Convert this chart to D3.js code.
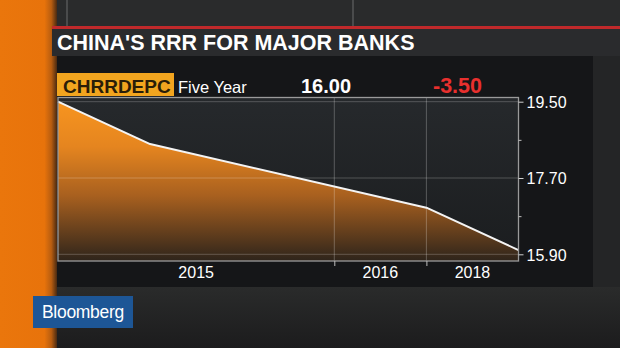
<!DOCTYPE html>
<html>
<head>
<meta charset="utf-8">
<script src="https://cdn.jsdelivr.net/npm/d3@7"></script>
<style>
  html, body { margin: 0; padding: 0; background: #222; }
  svg { display: block; font-family: "Liberation Sans", Arial, sans-serif; }
</style>
</head>
<body>
<svg id="chart" width="620" height="348"></svg>
<script>
// ---- data ----
const title = "CHINA'S RRR FOR MAJOR BANKS";
const ticker = "CHRRDEPC";
const period = "Five Year";
const lastValue = "16.00";
const netChange = "-3.50";
const obsIndex = [0, 2, 8, 10];          // observation position along the axis
const rrrValues = [19.5, 18.5, 17.0, 16.0];
const yearBounds = [0, 6, 8, 10];         // section boundaries on the x axis
const yearLabels = ["2015", "2016", "2018"];
const yTicks = [19.5, 17.7, 15.9];
const yTickLabels = ["19.50", "17.70", "15.90"];
const yMinorTicks = [18.6, 16.8];

const svg = d3.select("#chart");
const W = 620, H = 348;
const defs = svg.append("defs");

// background
const bgGrad = defs.append("linearGradient").attr("id", "bgGrad").attr("x1", 0).attr("x2", 0).attr("y1", 0).attr("y2", 1);
bgGrad.append("stop").attr("offset", "0%").attr("stop-color", "#2b2b2c");
bgGrad.append("stop").attr("offset", "100%").attr("stop-color", "#1d1d1e");
svg.append("rect").attr("width", W).attr("height", H).attr("fill", "url(#bgGrad)");

// top studio lines
svg.append("rect").attr("x", 52).attr("y", 0).attr("width", W - 52).attr("height", 27).attr("fill", "#2a2b2c");
[67, 353].forEach(x => svg.append("rect").attr("x", x - 1).attr("y", 0).attr("width", 2).attr("height", 26).attr("fill", "#4a4b4c"));

// bottom lighter area
const botGrad = defs.append("linearGradient").attr("id", "botGrad").attr("x1", 0).attr("x2", 0).attr("y1", 0).attr("y2", 1);
botGrad.append("stop").attr("offset", "0%").attr("stop-color", "#2a2b2b");
botGrad.append("stop").attr("offset", "100%").attr("stop-color", "#1c1c1d");
svg.append("rect").attr("x", 56).attr("y", 287).attr("width", W - 56).attr("height", H - 287).attr("fill", "url(#botGrad)");

// right side strip
svg.append("rect").attr("x", 593).attr("y", 56).attr("width", 27).attr("height", 231).attr("fill", "#242526");

// orange left strip
const orGrad = defs.append("linearGradient").attr("id", "orGrad").attr("x1", 0).attr("x2", 1).attr("y1", 0).attr("y2", 0);
orGrad.append("stop").attr("offset", "0%").attr("stop-color", "#ea760c");
orGrad.append("stop").attr("offset", "78%").attr("stop-color", "#e8730b");
orGrad.append("stop").attr("offset", "90%").attr("stop-color", "#b85d10");
orGrad.append("stop").attr("offset", "100%").attr("stop-color", "#4a2a12");
svg.append("rect").attr("x", 0).attr("y", 0).attr("width", 57).attr("height", H).attr("fill", "url(#orGrad)");

// red line and title band
svg.append("rect").attr("x", 52).attr("y", 26).attr("width", W - 52).attr("height", 3).attr("fill", "#c0292b");
svg.append("rect").attr("x", 52).attr("y", 29).attr("width", W - 52).attr("height", 27).attr("fill", "#2a2b2d");
svg.append("text").attr("x", 57).attr("y", 49.5).attr("fill", "#ffffff")
  .attr("font-size", 21.5).attr("font-weight", "bold").text(title);

// chart panel
svg.append("rect").attr("x", 57).attr("y", 56).attr("width", 536).attr("height", 231).attr("fill", "#151618");

// legend
svg.append("rect").attr("x", 57).attr("y", 73).attr("width", 117).attr("height", 23).attr("fill", "#f2a51f");
svg.append("text").attr("x", 63).attr("y", 93).attr("fill", "#2a1d08")
  .attr("font-size", 19).attr("font-weight", "bold").text(ticker);
svg.append("text").attr("x", 178).attr("y", 93).attr("fill", "#ffffff")
  .attr("font-size", 16.5).text(period);
svg.append("text").attr("x", 301).attr("y", 93).attr("fill", "#ffffff")
  .attr("font-size", 20).attr("font-weight", "bold").text(lastValue);
svg.append("text").attr("x", 433).attr("y", 93).attr("fill", "#e8302e")
  .attr("font-size", 21.5).attr("font-weight", "bold").text(netChange);

// scales
const plotL = 58, plotR = 518.5, plotT = 97.5, plotB = 261;
const x = d3.scaleLinear().domain([0, 10]).range([plotL, plotR]);
const y = d3.scaleLinear().domain([15.9, 19.5]).range([254.3, 101.7]);

// plot background
const pbGrad = defs.append("linearGradient").attr("id", "pbGrad").attr("x1", 0).attr("x2", 0).attr("y1", 0).attr("y2", 1);
pbGrad.append("stop").attr("offset", "0%").attr("stop-color", "#26292c");
pbGrad.append("stop").attr("offset", "100%").attr("stop-color", "#1b1d1f");
svg.append("rect").attr("x", plotL).attr("y", plotT).attr("width", plotR - plotL).attr("height", plotB - plotT).attr("fill", "url(#pbGrad)");

// area
const arGrad = defs.append("linearGradient").attr("id", "arGrad").attr("gradientUnits", "userSpaceOnUse")
  .attr("x1", 0).attr("x2", 0).attr("y1", plotT).attr("y2", plotB);
arGrad.append("stop").attr("offset", "0%").attr("stop-color", "#f9961f");
arGrad.append("stop").attr("offset", "30%").attr("stop-color", "#e5851f");
arGrad.append("stop").attr("offset", "60%").attr("stop-color", "#a8601f");
arGrad.append("stop").attr("offset", "100%").attr("stop-color", "#2e241b");

const pts = obsIndex.map((d, i) => ({ x: d, v: rrrValues[i] }));
const area = d3.area().x(d => x(d.x)).y0(plotB).y1(d => y(d.v));
svg.append("path").datum(pts).attr("d", area).attr("fill", "url(#arGrad)");

// grid lines
const gridG = svg.append("g");
gridG.selectAll("line.h").data(yTicks).join("line")
  .attr("x1", plotL).attr("x2", plotR).attr("y1", d => y(d)).attr("y2", d => y(d))
  .attr("stroke", "rgba(255,255,255,0.22)").attr("stroke-width", 1);
gridG.selectAll("line.v").data(yearBounds.slice(1, -1)).join("line")
  .attr("x1", d => x(d)).attr("x2", d => x(d)).attr("y1", plotT).attr("y2", plotB)
  .attr("stroke", "rgba(255,255,255,0.25)").attr("stroke-width", 1);

// line
const line = d3.line().x(d => x(d.x)).y(d => y(d.v));
svg.append("path").datum(pts).attr("d", line).attr("fill", "none")
  .attr("stroke", "#f4f4f4").attr("stroke-width", 2).attr("stroke-linejoin", "round");

// plot border
svg.append("rect").attr("x", plotL).attr("y", plotT).attr("width", plotR - plotL).attr("height", plotB - plotT)
  .attr("fill", "none").attr("stroke", "#9a9a9a").attr("stroke-width", 1.3);

// right y axis
const yAxis = d3.axisRight(y).tickValues(yTicks).tickSize(5).tickPadding(3)
  .tickFormat((d, i) => yTickLabels[i]);
const yG = svg.append("g").attr("transform", `translate(${plotR},0)`).call(yAxis);
yG.select(".domain").remove();
yG.selectAll("line").attr("stroke", "#cfcfcf");
yG.selectAll("text").attr("fill", "#ffffff").attr("font-size", 16)
  .attr("font-family", "Liberation Sans, Arial, sans-serif").attr("dy", "0.36em");
const yMinor = d3.axisRight(y).tickValues(yMinorTicks).tickSize(3).tickFormat("");
const yMG = svg.append("g").attr("transform", `translate(${plotR},0)`).call(yMinor);
yMG.select(".domain").remove();
yMG.selectAll("line").attr("stroke", "#bdbdbd");

// bottom x axis
const xAxis = d3.axisBottom(x).tickValues(yearBounds.slice(1, -1)).tickSize(5).tickFormat("");
const xG = svg.append("g").attr("transform", `translate(0,${plotB})`).call(xAxis);
xG.select(".domain").remove();
xG.selectAll("line").attr("stroke", "#bdbdbd");

svg.append("g").selectAll("text").data(yearLabels).join("text")
  .attr("x", (d, i) => x((yearBounds[i] + yearBounds[i + 1]) / 2))
  .attr("y", 277.5).attr("text-anchor", "middle").attr("fill", "#ffffff")
  .attr("font-size", 16).text(d => d);

// Bloomberg logo
svg.append("rect").attr("x", 33).attr("y", 296).attr("width", 100).attr("height", 32).attr("fill", "#1d5696");
svg.append("text").attr("x", 42).attr("y", 318).attr("fill", "#ffffff")
  .attr("font-size", 17.5).attr("letter-spacing", -0.3).text("Bloomberg");
</script>
</body>
</html>
